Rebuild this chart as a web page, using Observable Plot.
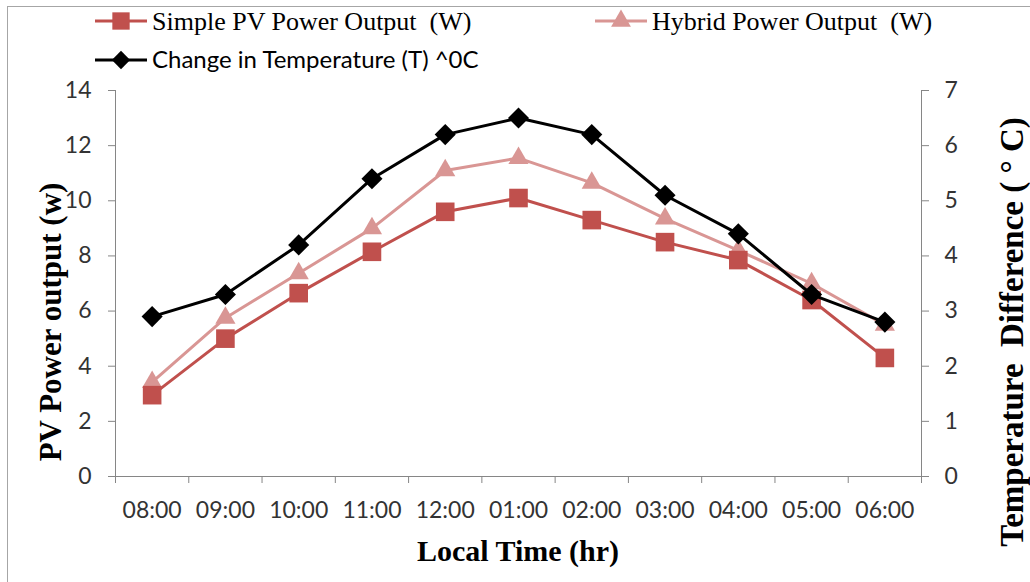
<!DOCTYPE html>
<html>
<head>
<meta charset="utf-8">
<script src="https://cdn.jsdelivr.net/npm/d3@7"></script>
<script src="https://cdn.jsdelivr.net/npm/@observablehq/plot@0.6"></script>
<style>
  html, body { margin: 0; padding: 0; background: #fff; overflow: hidden; }
  #wrap { position: relative; width: 1030px; height: 582px; overflow: hidden; background: #fff; }
  #border { position: absolute; left: 7px; top: 6px; width: 1100px; height: 700px; border: 1px solid #a6a6a6; box-sizing: border-box; }
  #wrap svg { position: absolute; left: 0; top: 0; }
</style>
</head>
<body>
<div id="wrap"><div id="border"></div></div>
<script>
// Hourly readings, 08:00 through 06:00
const times = ["08:00", "09:00", "10:00", "11:00", "12:00", "01:00", "02:00", "03:00", "04:00", "05:00", "06:00"];
const simplePV = [2.95, 5.0, 6.65, 8.15, 9.6, 10.1, 9.3, 8.5, 7.85, 6.4, 4.3];
const hybridPV = [3.42, 5.75, 7.37, 9.0, 11.1, 11.55, 10.65, 9.35, 8.2, 7.0, 5.5];
const tempDiff = [2.9, 3.3, 4.2, 5.4, 6.2, 6.5, 6.2, 5.1, 4.4, 3.3, 2.8];

// Axis ticks
const powerTicks = [0, 2, 4, 6, 8, 10, 12, 14];
const tempTicks = [0, 1, 2, 3, 4, 5, 6, 7];
const tempToPower = 14 / 7; // right axis 0–7 shares the frame with the left axis 0–14

const seriesNames = ["Simple PV Power Output  (W)", "Hybrid Power Output  (W)", "Change in Temperature (T) ^0C"];
const colors = { simple: "#C0504D", hybrid: "#D99694", temp: "#000000" };
const axisColor = "#868686";
const textColor = "#333333";

const rows = times.map((t, i) => ({ i, time: t, simple: simplePV[i], hybrid: hybridPV[i], temp: tempDiff[i] }));
const boundaries = d3.range(times.length + 1).map(k => k - 0.5);

// Square rotated 45°, sized by its half-diagonal
const diamond = {
  draw(ctx, size) {
    const h = Math.sqrt(size) * 0.7;
    ctx.moveTo(0, -h); ctx.lineTo(h, 0); ctx.lineTo(0, h); ctx.lineTo(-h, 0); ctx.closePath();
  }
};

const W = 1030, H = 582;
const chart = Plot.plot({
  width: W, height: H,
  marginLeft: 115, marginRight: 109, marginTop: 90, marginBottom: 106,
  x: { domain: [-0.5, times.length - 0.5] },
  y: { domain: [0, 14] },
  style: { fontFamily: "Lato, sans-serif", fontSize: "23px", background: "transparent", overflow: "visible" },
  marks: [
    // axis lines
    Plot.ruleX([-0.5, times.length - 0.5], { y1: 0, y2: 14, stroke: axisColor }),
    Plot.ruleY([0], { x1: -0.5, x2: times.length - 0.5, stroke: axisColor }),
    // category boundary ticks
    Plot.tickX(boundaries, { x: d => d, insetTop: 386, insetBottom: -7, stroke: axisColor }),
    // left axis
    Plot.axisY(powerTicks, { anchor: "left", tickSize: 7, tickPadding: 17, stroke: axisColor, fill: textColor, label: null }),
    // right axis (temperature)
    Plot.axisY(tempTicks.map(v => v * tempToPower), {
      anchor: "right", tickSize: 7, tickPadding: 16, stroke: axisColor, fill: textColor, label: null,
      tickFormat: d => d / tempToPower
    }),
    // category labels
    Plot.axisX(d3.range(times.length), { tickSize: 0, tickPadding: 25, tickFormat: i => times[i], fill: textColor, label: null }),
    // Hybrid
    Plot.line(rows, { x: "i", y: "hybrid", stroke: colors.hybrid, strokeWidth: 3 }),
    Plot.dot(rows, { x: "i", y: "hybrid", symbol: "triangle", r: 7.5, fill: colors.hybrid, stroke: null }),
    // Simple PV
    Plot.line(rows, { x: "i", y: "simple", stroke: colors.simple, strokeWidth: 3 }),
    Plot.dot(rows, { x: "i", y: "simple", symbol: "square", r: 10.5, fill: colors.simple, stroke: null }),
    // Temperature difference (secondary axis)
    Plot.line(rows, { x: "i", y: d => d.temp * tempToPower, stroke: colors.temp, strokeWidth: 3 }),
    Plot.dot(rows, { x: "i", y: d => d.temp * tempToPower, symbol: diamond, r: 8.5, fill: colors.temp, stroke: null })
  ]
});
document.getElementById("wrap").appendChild(chart);

// Axis titles and legend
const over = d3.select("#wrap").append("svg")
  .attr("width", W).attr("height", H)
  .style("pointer-events", "none");

const titleFont = "'Liberation Serif', 'Times New Roman', serif";
over.append("text")
  .attr("x", 518).attr("y", 561)
  .attr("text-anchor", "middle")
  .attr("font-family", titleFont).attr("font-weight", "bold").attr("font-size", 30)
  .attr("fill", "#000")
  .text("Local Time (hr)");
over.append("text")
  .attr("transform", "translate(61,322) rotate(-90)")
  .attr("text-anchor", "middle")
  .attr("font-family", titleFont).attr("font-weight", "bold").attr("font-size", 31)
  .attr("fill", "#000")
  .text("PV Power output (w)");
over.append("text")
  .attr("transform", "translate(1023,332) rotate(-90)")
  .attr("text-anchor", "middle")
  .attr("font-family", titleFont).attr("font-weight", "bold").attr("font-size", 33)
  .attr("fill", "#000")
  .style("white-space", "pre")
  .text("Temperature  Difference ( \u00B0 C)");

const legendItems = [
  { name: seriesNames[0], color: colors.simple, sym: d3.symbolSquare, size: 300, x: 95, y: 21, font: titleFont, fs: 26 },
  { name: seriesNames[1], color: colors.hybrid, sym: d3.symbolTriangle, size: 170, x: 595, y: 21, font: titleFont, fs: 26 },
  { name: seriesNames[2], color: colors.temp, sym: diamond, size: 170, x: 95, y: 60, font: "Lato, sans-serif", fs: 24 }
];
const lg = over.selectAll("g.legend").data(legendItems).join("g")
  .attr("transform", d => `translate(${d.x},${d.y})`);
lg.append("line").attr("x1", 0).attr("x2", 52).attr("y1", 0).attr("y2", 0)
  .attr("stroke", d => d.color).attr("stroke-width", 3);
lg.append("path").attr("transform", "translate(26,0)")
  .attr("d", d => d3.symbol(d.sym, d.size)())
  .attr("fill", d => d.color);
lg.append("text").attr("x", 57).attr("dy", "0.35em")
  .attr("font-family", d => d.font).attr("font-size", d => d.fs)
  .attr("fill", "#000")
  .style("white-space", "pre")
  .text(d => d.name);
</script>
</body>
</html>
